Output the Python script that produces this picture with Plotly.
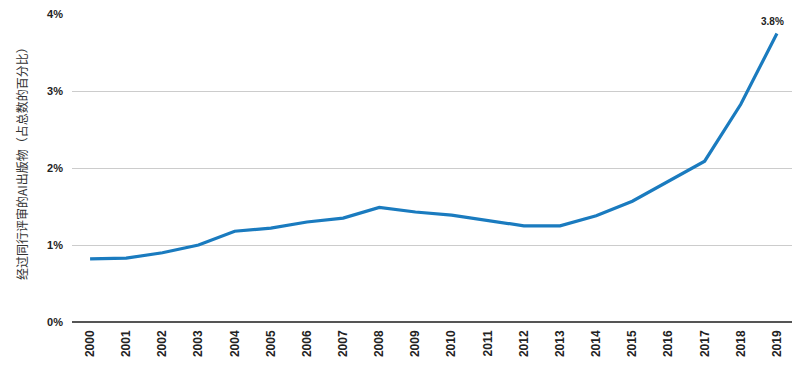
import plotly.graph_objects as go

years = [str(y) for y in range(2000, 2020)]
values = [0.82, 0.83, 0.90, 1.00, 1.18, 1.22, 1.30, 1.35, 1.49, 1.43,
          1.39, 1.32, 1.25, 1.25, 1.38, 1.57, 1.83, 2.09, 2.83, 3.75]
y_ticks = [0, 1, 2, 3, 4]
y_ticklabels = ["0%", "1%", "2%", "3%", "4%"]
last_label = "3.8%"
y_title = "经过同行评审的AI出版物（占总数的百分比）"

fig = go.Figure()
fig.add_trace(go.Scatter(
    x=years, y=values, mode="lines",
    line=dict(color="#1a7bbf", width=3.2),
    hoverinfo="skip", showlegend=False,
))
fig.add_annotation(
    xref="x", yref="y",
    x=len(years) - 1, y=values[-1], text="<b>" + last_label + "</b>",
    showarrow=False, yanchor="bottom", yshift=5, xshift=-4,
    font=dict(size=10, color="#222222", family="Liberation Sans, Arial"),
)
fig.add_annotation(
    xref="paper", yref="paper", x=-0.069, y=0.523,
    xanchor="center", yanchor="middle", textangle=-90,
    text=y_title, showarrow=False,
    font=dict(size=12, family="Noto Sans CJK SC", color="#333333"),
)

fig.update_layout(
    width=800, height=369,
    margin=dict(l=64, r=13, t=6, b=55, autoexpand=False),
    paper_bgcolor="white", plot_bgcolor="white",
    font=dict(family="Liberation Sans, Arial, Noto Sans CJK SC", color="#222222"),
    xaxis=dict(
        type="category", range=[-0.5, 19.5], automargin=False,
        tickangle=-90, showgrid=False, ticks="",
        tickfont=dict(size=12, color="#222222"),
        tickprefix="<b>", ticksuffix="</b>",
        ticklabelstandoff=5,
        showline=False, zeroline=False,
    ),
    yaxis=dict(
        range=[0, 4.004], tickvals=y_ticks, automargin=False,
        ticktext=["<b>" + t + "</b>" for t in y_ticklabels],
        showgrid=True, gridcolor="#cccccc", gridwidth=1,
        zeroline=True, zerolinecolor="#555555", zerolinewidth=2,
        ticks="", ticklabelstandoff=8,
        tickfont=dict(size=11, color="#222222"),
        fixedrange=True,
    ),
)
fig.write_html("out.html")
